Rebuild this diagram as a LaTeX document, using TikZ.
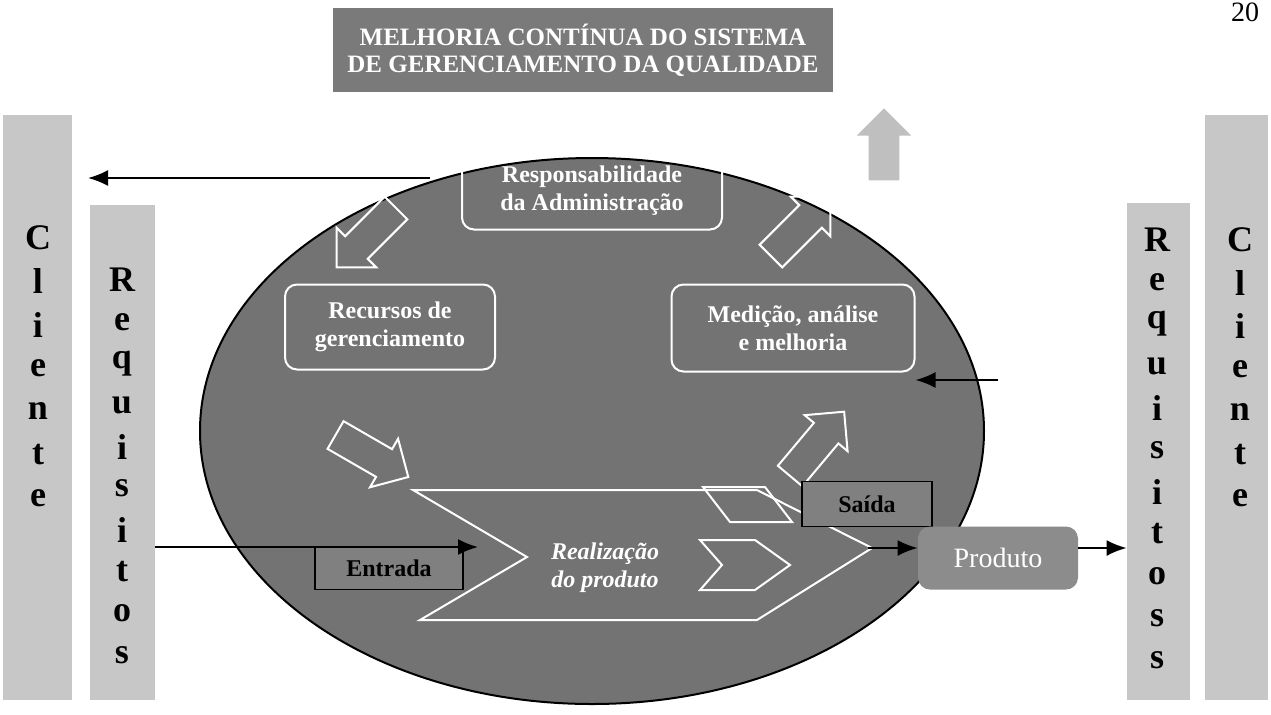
\documentclass[tikz,border=0pt]{standalone}
\usepackage{fontspec}
\setmainfont{Liberation Serif}
\usetikzlibrary{calc,shapes,arrows.meta,positioning}
\tikzset{>={Latex[length=10pt,width=8pt]}}
\begin{document}
\begin{tikzpicture}[x=0.5pt,y=-0.5pt,
  colbox/.style={fill=black!22, inner sep=0pt},
  colletter/.style={font=\fontsize{18}{18}\selectfont\bfseries, text=black},
  whitebox/.style={draw=white, line width=1pt, rounded corners=6pt, text=white, align=center, font=\fontsize{12}{14}\selectfont\bfseries},
  blackbox/.style={draw=black, line width=0.8pt, fill=black!50, text=black, font=\fontsize{12}{14}\selectfont\bfseries},
  hollowarrow/.style={single arrow, draw=white, line width=1pt, minimum height=42pt, single arrow head extend=6pt, inner sep=0pt},
  link/.style={->, line width=1pt, black}]
\useasboundingbox (0,0) rectangle (1271,714);
\node[font=\fontsize{14}{14}\selectfont] (page) at (1245,12) {20};
\node[fill=black!52, minimum width=250pt, minimum height=42pt, text=white, align=center,
  font=\fontsize{12.5}{13.5}\selectfont\bfseries] (title) at (583,50)
  {MELHORIA CONTÍNUA DO SISTEMA\\DE GERENCIAMENTO DA QUALIDADE};
\node[single arrow, fill=black!25, rotate=90, minimum height=36pt,
  single arrow head extend=6pt, inner sep=0pt] (up) at (884,152) {\rule{0pt}{15pt}};
\node[colbox, minimum width=34.5pt, minimum height=292.5pt] (cliL) at (37.5,407.5) {};
\node[colbox, minimum width=32.5pt, minimum height=247.5pt] (reqL) at (122.5,452.5) {};
\node[colbox, minimum width=31.5pt, minimum height=248.5pt] (reqR) at (1158.5,451.5) {};
\node[colbox, minimum width=31.5pt, minimum height=292.5pt] (cliR) at (1236.5,407.5) {};
\foreach \l [count=\i] in {C,l,i,e,n,t,e} {
  \node[colletter] (cl\i) at (38,{238+(\i-1)*43.3}) {\l};
  \node[colletter] (cr\i) at (1240,{240+(\i-1)*43}) {\l};
}
\foreach \l [count=\i] in {R,e,q,u,i,s,i,t,o,s} {
  \node[colletter] (rl\i) at (122,{280+(\i-1)*41.7}) {\l};
}
\foreach \l [count=\i] in {R,e,q,u,i,s,i,t,o,s,s} {
  \node[colletter] (rr\i) at (1157,{240+(\i-1)*42}) {\l};
}
\node[ellipse, draw=black, line width=1pt, fill=black!55, minimum width=392pt, minimum height=273pt, inner sep=0pt] (cycle) at (592,431) {};
\node[whitebox, minimum width=130pt, minimum height=38.5pt] (resp) at (592,191) {Responsabilidade\\da Administração};
\node[whitebox, minimum width=105pt, minimum height=42.5pt] (rec) at (390,327) {Recursos de\\gerenciamento};
\node[whitebox, minimum width=121.5pt, minimum height=43.5pt] (med) at (793,328) {Medição, análise\\e melhoria};
\node[hollowarrow, rotate=225] (a1) at (372,232) {\rule{0pt}{15pt}};
\node[hollowarrow, rotate=45] (a2) at (795,232) {\rule{0pt}{15pt}};
\node[hollowarrow, rotate=-30] (a3) at (365,452) {\rule{0pt}{15pt}};
\node[hollowarrow, rotate=50] (a4) at (812,450) {\rule{0pt}{15pt}};
\draw[white, line width=1pt] (413,490) -- (757,490) -- (872,548) -- (757,620) -- (420,620) -- (527,557) -- cycle;
\draw[white, line width=1pt] (703,487) -- (765,487) -- (792,522) -- (730,522) -- cycle;
\draw[white, line width=1pt] (700,540) -- (755,540) -- (790,565) -- (755,590) -- (700,590) -- (722,565) -- cycle;
\node[text=white, align=center, font=\fontsize{12}{14}\selectfont\bfseries\itshape] (real) at (605,568) {Realização\\do produto};
\node[blackbox, minimum width=74pt, minimum height=21.5pt] (entrada) at (389,568) {Entrada};
\node[blackbox, minimum width=65pt, minimum height=22.5pt] (saida) at (867,504) {Saída};
\node[fill=black!45, rounded corners=6pt, minimum width=80pt, minimum height=31.5pt, text=white,
  font=\fontsize{14}{14}\selectfont] (produto) at (998,558) {Produto};
\coordinate (respout) at (430,178);
\coordinate (cliin) at (88,178);
\coordinate (medsrc) at (998,380);
\coordinate (realin) at (478,547);
\coordinate (realout) at (868,548);
\draw[link] (respout) -- (cliin);
\draw[link] (medsrc) -- (med.east |- medsrc);
\draw[link] (reqL.east |- realin) -- (realin);
\draw[link] (realout) -- (produto.west |- realout);
\draw[link] (produto.east |- realout) -- (reqR.west |- realout);
\end{tikzpicture}
\end{document}
